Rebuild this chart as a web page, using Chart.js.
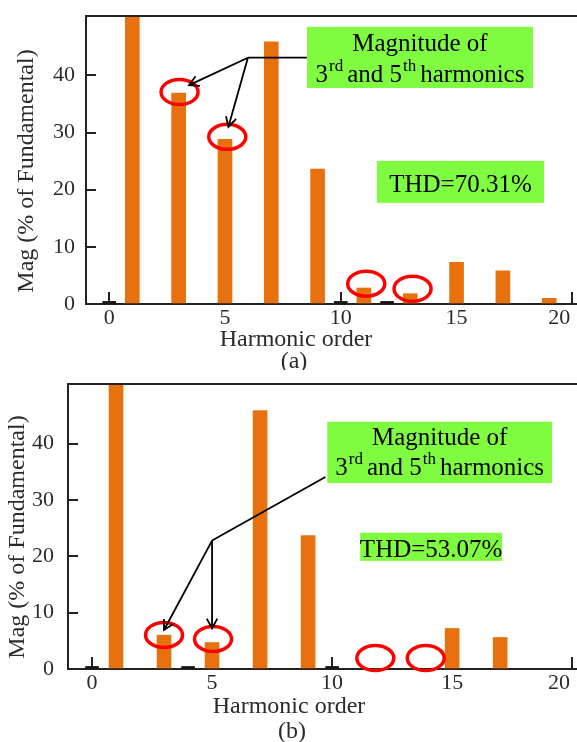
<!DOCTYPE html>
<html>
<head>
<meta charset="utf-8">
<script src="https://cdn.jsdelivr.net/npm/chart.js@4.4.0/dist/chart.umd.min.js"></script>
<style>
  html, body { margin: 0; padding: 0; background: #fff; }
  #wrap { position: relative; width: 577px; height: 742px; overflow: hidden; }
  .panel { position: absolute; left: 0; width: 577px; }
  #panelA { top: 0; height: 370px; }
  #panelB { top: 370px; height: 372px; }
</style>
</head>
<body>
<div id="wrap">
  <div class="panel" id="panelA"><canvas id="chartA" width="577" height="370"></canvas></div>
  <div class="panel" id="panelB"><canvas id="chartB" width="577" height="372"></canvas></div>
</div>
<script>
// harmonic spectrum data (% of fundamental)
const harmonicOrders = [1, 3, 5, 7, 9, 11, 13, 15, 17, 19];
const magA = [100, 36.9, 28.8, 45.9, 23.6, 2.8, 1.8, 7.3, 5.8, 1.0];
const magB = [100, 6.0, 4.7, 45.9, 23.7, 0, 0, 7.2, 5.6, 0];
// orders drawn as flat (zero) marks on the axis
const zeroOrdersA = [0, 10, 12];
const zeroOrdersB = [0, 4, 10];
const xTickValues = [0, 5, 10, 15, 20];
const yTickValues = [0, 10, 20, 30, 40];
const thdA = "THD=70.31%";
const thdB = "THD=53.07%";

const SERIF = "'Liberation Serif', 'Times New Roman', serif";
const ORANGE = "#e8710f";
const GREEN = "#80fc40";
const AXIS = "#222";

// annotation placement, in data units of each panel
const notesA = {
    caption: "(a)", yTitle: [27, 171], xTitle: [296, 346], captionPos: [294, 362],
    box: { x1: 8.54, x2: 18.3, y1: 48.5, y2: 37.8, line1: 44.3, line2: 38.9 },
    thd: { x1: 11.56, x2: 18.78, y1: 25.05, y2: 17.7, base: 19.6, text: thdA },
    arrow: { from: [8.54, 43.1], elbow: [5.99, 43.1], heads: [[3.45, 38.3], [5.15, 31.0]] },
    rings: [[3.04, 37.1], [5.1, 29.25], [11.1, 3.55], [13.1, 2.67]]
};
const notesB = {
    caption: "(b)", yTitle: [18, 167], xTitle: [289, 343], captionPos: [292, 362],
    box: { x1: 9.8, x2: 19.16, y1: 43.9, y2: 33.0, line1: 39.8, line2: 34.5 },
    thd: { x1: 11.17, x2: 17.08, y1: 24.2, y2: 19.2, base: 19.95, text: thdB },
    arrow: { from: [9.72, 34.1], elbow: [5.0, 22.8], heads: [[3.0, 6.93], [5.0, 7.23]] },
    rings: [[3.0, 6.04], [5.04, 5.33], [11.8, 1.95], [13.9, 1.95]]
};

function drawMixedLine(ctx, parts, cx, baseY) {
    // parts: [text, isSuperscript]
    const fontFor = p => (p[1] ? "17px " : "25px ") + SERIF;
    let total = 0;
    parts.forEach(p => {
        ctx.font = fontFor(p);
        total += ctx.measureText(p[0]).width + (p[1] ? 5 : 0);
    });
    let x = cx - total / 2;
    ctx.textAlign = "left";
    ctx.textBaseline = "alphabetic";
    parts.forEach(p => {
        ctx.font = fontFor(p);
        if (p[1]) x += 1;
        ctx.fillText(p[0], x, p[1] ? baseY - 11 : baseY);
        x += ctx.measureText(p[0]).width + (p[1] ? 4 : 0);
    });
}

function arrowHead(ctx, x0, y0, x1, y1) {
    const a = Math.atan2(y1 - y0, x1 - x0);
    const len = 11;
    ctx.beginPath();
    ctx.moveTo(x1 - len * Math.cos(a - 0.5), y1 - len * Math.sin(a - 0.5));
    ctx.lineTo(x1, y1);
    ctx.lineTo(x1 - len * Math.cos(a + 0.5), y1 - len * Math.sin(a + 0.5));
    ctx.stroke();
}

const decorPlugin = {
    id: "decor",
    afterDatasetsDraw(chart, args, opts) {
        const n = opts.notes;
        const ctx = chart.ctx;
        const xs = chart.scales.x, ys = chart.scales.y;
        const px = v => xs.getPixelForValue(v);
        const py = v => ys.getPixelForValue(v);
        const area = chart.chartArea;
        ctx.save();

        // top frame line
        ctx.strokeStyle = AXIS;
        ctx.lineWidth = 2;
        ctx.beginPath();
        ctx.moveTo(area.left, area.top);
        ctx.lineTo(chart.width, area.top);
        ctx.stroke();

        // red rings
        ctx.strokeStyle = "#ff0000";
        ctx.lineWidth = 3.5;
        n.rings.forEach(r => {
            ctx.beginPath();
            ctx.ellipse(px(r[0]), py(r[1]), 18.5, 12.5, 0, 0, Math.PI * 2);
            ctx.stroke();
        });

        // arrows
        ctx.strokeStyle = "#000";
        ctx.lineWidth = 1.8;
        const a = n.arrow;
        const ex = px(a.elbow[0]), ey = py(a.elbow[1]);
        ctx.beginPath();
        ctx.moveTo(px(a.from[0]), py(a.from[1]));
        ctx.lineTo(ex, ey);
        ctx.stroke();
        a.heads.forEach(h => {
            const hx = px(h[0]), hy = py(h[1]);
            ctx.beginPath();
            ctx.moveTo(ex, ey);
            ctx.lineTo(hx, hy);
            ctx.stroke();
            arrowHead(ctx, ex, ey, hx, hy);
        });

        // green label boxes
        ctx.fillStyle = GREEN;
        const b = n.box;
        ctx.fillRect(px(b.x1), py(b.y1), px(b.x2) - px(b.x1), py(b.y2) - py(b.y1));
        const t = n.thd;
        ctx.fillRect(px(t.x1), py(t.y1), px(t.x2) - px(t.x1), py(t.y2) - py(t.y1));

        ctx.fillStyle = "#000";
        const bcx = (px(b.x1) + px(b.x2)) / 2;
        drawMixedLine(ctx, [["Magnitude of", false]], bcx, py(b.line1));
        drawMixedLine(ctx, [["3", false], ["rd", true], ["and 5", false], ["th", true], ["harmonics", false]], bcx, py(b.line2));
        drawMixedLine(ctx, [[t.text, false]], (px(t.x1) + px(t.x2)) / 2, py(t.base));

        // axis titles and caption
        ctx.fillStyle = "#2b2b2b";
        ctx.font = "24px " + SERIF;
        ctx.textAlign = "center";
        ctx.textBaseline = "middle";
        ctx.save();
        ctx.translate(n.yTitle[0], n.yTitle[1]);
        ctx.rotate(-Math.PI / 2);
        ctx.fillText("Mag (% of Fundamental)", 0, 0);
        ctx.restore();
        ctx.textBaseline = "alphabetic";
        ctx.fillText("Harmonic order", n.xTitle[0], n.xTitle[1]);
        ctx.textBaseline = "middle";
        ctx.fillText(n.caption, n.captionPos[0], n.captionPos[1]);

        ctx.restore();
    }
};

function buildChart(canvasId, mags, zeroOrders, notes, dims) {
    const bars = harmonicOrders
        .map((h, i) => ({ x: h, y: mags[i] }))
        .filter(p => p.y > 0);
    const flats = zeroOrders.map(h => ({ x: h, y: 0.45 }));
    return new Chart(document.getElementById(canvasId).getContext("2d"), {
        type: "bar",
        data: {
            datasets: [
                { data: bars, backgroundColor: ORANGE, barThickness: 14, grouped: false },
                { data: flats, backgroundColor: "#111", barThickness: 13, grouped: false }
            ]
        },
        plugins: [decorPlugin],
        options: {
            responsive: false,
            animation: false,
            events: [],
            layout: { padding: { top: dims.top, right: 0, bottom: 0, left: 0 } },
            plugins: {
                legend: { display: false },
                tooltip: { enabled: false },
                decor: { notes: notes }
            },
            scales: {
                x: {
                    type: "linear",
                    min: -1,
                    max: 20.2,
                    offset: false,
                    afterBuildTicks: s => { s.ticks = xTickValues.map(v => ({ value: v })); },
                    afterFit: s => { s.height = dims.xHeight; s.paddingLeft = 0; s.paddingRight = 0; },
                    grid: { offset: false, drawOnChartArea: false, drawTicks: true, tickLength: -12, color: AXIS, lineWidth: 2 },
                    border: { display: true, color: AXIS, width: 2 },
                    ticks: {
                        autoSkip: false,
                        maxRotation: 0,
                        padding: 13,
                        color: "#2b2b2b",
                        font: { family: SERIF, size: 22 },
                        callback: v => v === 20 ? "20\u2003\u2009" : String(v)
                    }
                },
                y: {
                    min: 0,
                    max: dims.yMax,
                    afterBuildTicks: s => { s.ticks = yTickValues.map(v => ({ value: v })); },
                    afterFit: s => { s.width = dims.yWidth; s.paddingTop = 0; s.paddingBottom = 0; },
                    grid: { drawOnChartArea: false, drawTicks: true, tickLength: -10, color: AXIS, lineWidth: 2 },
                    border: { display: true, color: AXIS, width: 2 },
                    ticks: {
                        padding: dims.yPad,
                        color: "#2b2b2b",
                        font: { family: SERIF, size: 22 }
                    }
                }
            }
        }
    });
}

buildChart("chartA", magA, zeroOrdersA, notesA, { top: 16, xHeight: 66, yWidth: 86, yMax: 50.4, yPad: 21 });
buildChart("chartB", magB, zeroOrdersB, notesB, { top: 14, xHeight: 73, yWidth: 68, yMax: 50.6, yPad: 24 });
</script>
</body>
</html>
